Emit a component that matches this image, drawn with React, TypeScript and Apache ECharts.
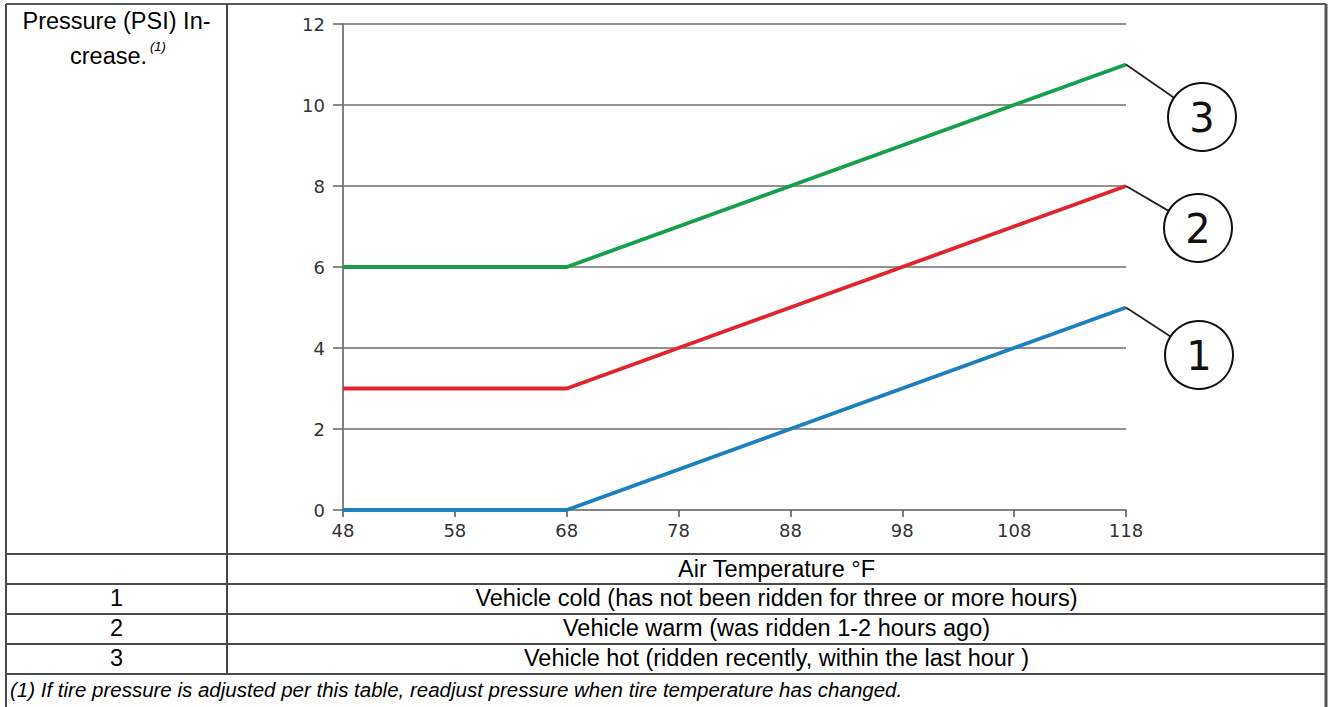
import React, { useEffect, useRef } from "react";
import * as echarts from "echarts";

// ---- data ----
const temperatures = ["48", "58", "68", "78", "88", "98", "108", "118"];
const breakTemps = ["48", "68", "118"];
const coldValues = [0, 0, 5];
const warmValues = [3, 3, 8];
const hotValues = [6, 6, 11];
const yTicks = { min: 0, max: 12, interval: 2 };
const seriesNames = ["1", "2", "3"];
const seriesColors = ["#1b7fc0", "#e0252f", "#16a04c"];
const headerLine1 = "Pressure (PSI) In-";
const headerLine2 = "crease.";
const headerNote = "(1)";
const xAxisTitle = "Air Temperature °F";
const rowLabels = ["1", "2", "3"];
const rowDescriptions = [
  "Vehicle cold (has not been ridden for three or more hours)",
  "Vehicle warm (was ridden 1-2 hours ago)",
  "Vehicle hot (ridden recently, within the last hour )",
];
const footnote =
  "(1) If tire pressure is adjusted per this table, readjust pressure when tire temperature has changed.";

const TABLE_FONT = "'Liberation Sans', Arial, sans-serif";
const CHART_FONT = "'DejaVu Sans', sans-serif";

export default function App() {
  const ref = useRef<HTMLDivElement>(null);

  useEffect(() => {
    if (!ref.current) return;
    const chart = echarts.init(ref.current, null, { renderer: "svg" });
    const allValues = [coldValues, warmValues, hotValues];

    chart.setOption({
      animation: false,
      backgroundColor: "#ffffff",
      grid: { left: 343, top: 24, width: 783, height: 486, containLabel: false },
      xAxis: {
        type: "category",
        data: temperatures,
        boundaryGap: false,
        axisLine: { show: true, lineStyle: { color: "#808080", width: 1.5 } },
        axisTick: { show: true, length: 7, lineStyle: { color: "#555", width: 1.5 } },
        axisLabel: { fontFamily: CHART_FONT, fontSize: 18, color: "#333", margin: 11 },
        splitLine: { show: false },
      },
      yAxis: {
        type: "value",
        min: yTicks.min,
        max: yTicks.max,
        interval: yTicks.interval,
        axisLine: { show: true, lineStyle: { color: "#808080", width: 2 } },
        axisTick: { show: true, length: 10, lineStyle: { color: "#666", width: 1.5 } },
        axisLabel: { fontFamily: CHART_FONT, fontSize: 18, color: "#333", margin: 18 },
        splitLine: { show: true, lineStyle: { color: "#6e6e6e", width: 1.5 } },
      },
      series: allValues.map((vals, i) => ({
        name: seriesNames[i],
        type: "line",
        data: breakTemps.map((t, j) => [t, vals[j]]),
        symbol: "none",
        lineStyle: { color: seriesColors[i], width: 3.8 },
        z: 5,
      })),
    });

    // callouts anchored at the last data points
    const circleCenters = [
      [1199, 355],
      [1198, 228],
      [1202, 117],
    ];
    const r = 34;
    const lastIdx = temperatures.indexOf(breakTemps[breakTemps.length - 1]);
    const callouts: any[] = [];
    allValues.forEach((vals, i) => {
      const p = chart.convertToPixel({ xAxisIndex: 0, yAxisIndex: 0 }, [
        lastIdx,
        vals[vals.length - 1],
      ]) as number[];
      const [cx, cy] = circleCenters[i];
      const dx = p[0] - cx;
      const dy = p[1] - cy;
      const d = Math.sqrt(dx * dx + dy * dy);
      callouts.push({
        type: "line",
        shape: { x1: p[0], y1: p[1], x2: cx + (dx / d) * r, y2: cy + (dy / d) * r },
        style: { stroke: "#222", lineWidth: 1.8 },
        z: 20,
      });
      callouts.push({
        type: "circle",
        shape: { cx, cy, r },
        style: { fill: "#fff", stroke: "#111", lineWidth: 2 },
        z: 20,
      });
      callouts.push({
        type: "text",
        x: cx,
        y: cy + 1,
        style: {
          text: seriesNames[i],
          fontFamily: CHART_FONT,
          fontSize: 40,
          fill: "#111",
          align: "center",
          verticalAlign: "middle",
        },
        z: 21,
      });
    });

    // table
    const L = 6, R = 1326, T = 4, COL = 227;
    const rowLines = [554, 584, 614, 644, 674];
    const lineStyle = { stroke: "#4a4a4a", lineWidth: 2 };
    const table: any[] = [
      { type: "line", shape: { x1: L, y1: T, x2: R, y2: T }, style: { stroke: "#222", lineWidth: 1.5 } },
      { type: "line", shape: { x1: L, y1: T, x2: L, y2: 707 }, style: lineStyle },
      { type: "line", shape: { x1: R, y1: T, x2: R, y2: 707 }, style: { stroke: "#555", lineWidth: 3 } },
      { type: "line", shape: { x1: COL, y1: T, x2: COL, y2: rowLines[rowLines.length - 1] }, style: lineStyle },
      ...rowLines.map((y) => ({ type: "line", shape: { x1: L, y1: y, x2: R, y2: y }, style: lineStyle })),
    ];
    const textBase = { fontFamily: TABLE_FONT, fontSize: 23.5, fill: "#000", verticalAlign: "middle" };
    const col1C = (L + COL) / 2;
    const col2C = (COL + R) / 2;
    const texts: any[] = [
      { type: "text", x: col1C, y: 21, style: { ...textBase, text: headerLine1, align: "center" } },
      { type: "text", x: 70, y: 56, style: { ...textBase, text: headerLine2, align: "left" } },
      {
        type: "text",
        x: 150,
        y: 46,
        style: { ...textBase, text: headerNote, fontSize: 13, fontStyle: "italic", align: "left" },
      },
      { type: "text", x: col2C, y: 569, style: { ...textBase, text: xAxisTitle, align: "center" } },
      ...rowLabels.map((lab, i) => ({
        type: "text",
        x: col1C,
        y: 598 + i * 30,
        style: { ...textBase, text: lab, align: "center" },
      })),
      ...rowDescriptions.map((desc, i) => ({
        type: "text",
        x: col2C,
        y: 598 + i * 30,
        style: { ...textBase, text: desc, align: "center" },
      })),
      {
        type: "text",
        x: 10,
        y: 689,
        style: { ...textBase, text: footnote, fontStyle: "italic", align: "left", fontSize: 20.5 },
      },
    ];

    chart.setOption({
      graphic: [
        ...table.map((e) => ({ ...e, z: 30 })),
        ...texts.map((e) => ({ ...e, z: 30 })),
        ...callouts,
      ],
    });

    return () => chart.dispose();
  }, []);

  return (
    <div
      ref={ref}
      style={{ position: "absolute", left: 0, top: 0, width: 1329, height: 707 }}
    />
  );
}
